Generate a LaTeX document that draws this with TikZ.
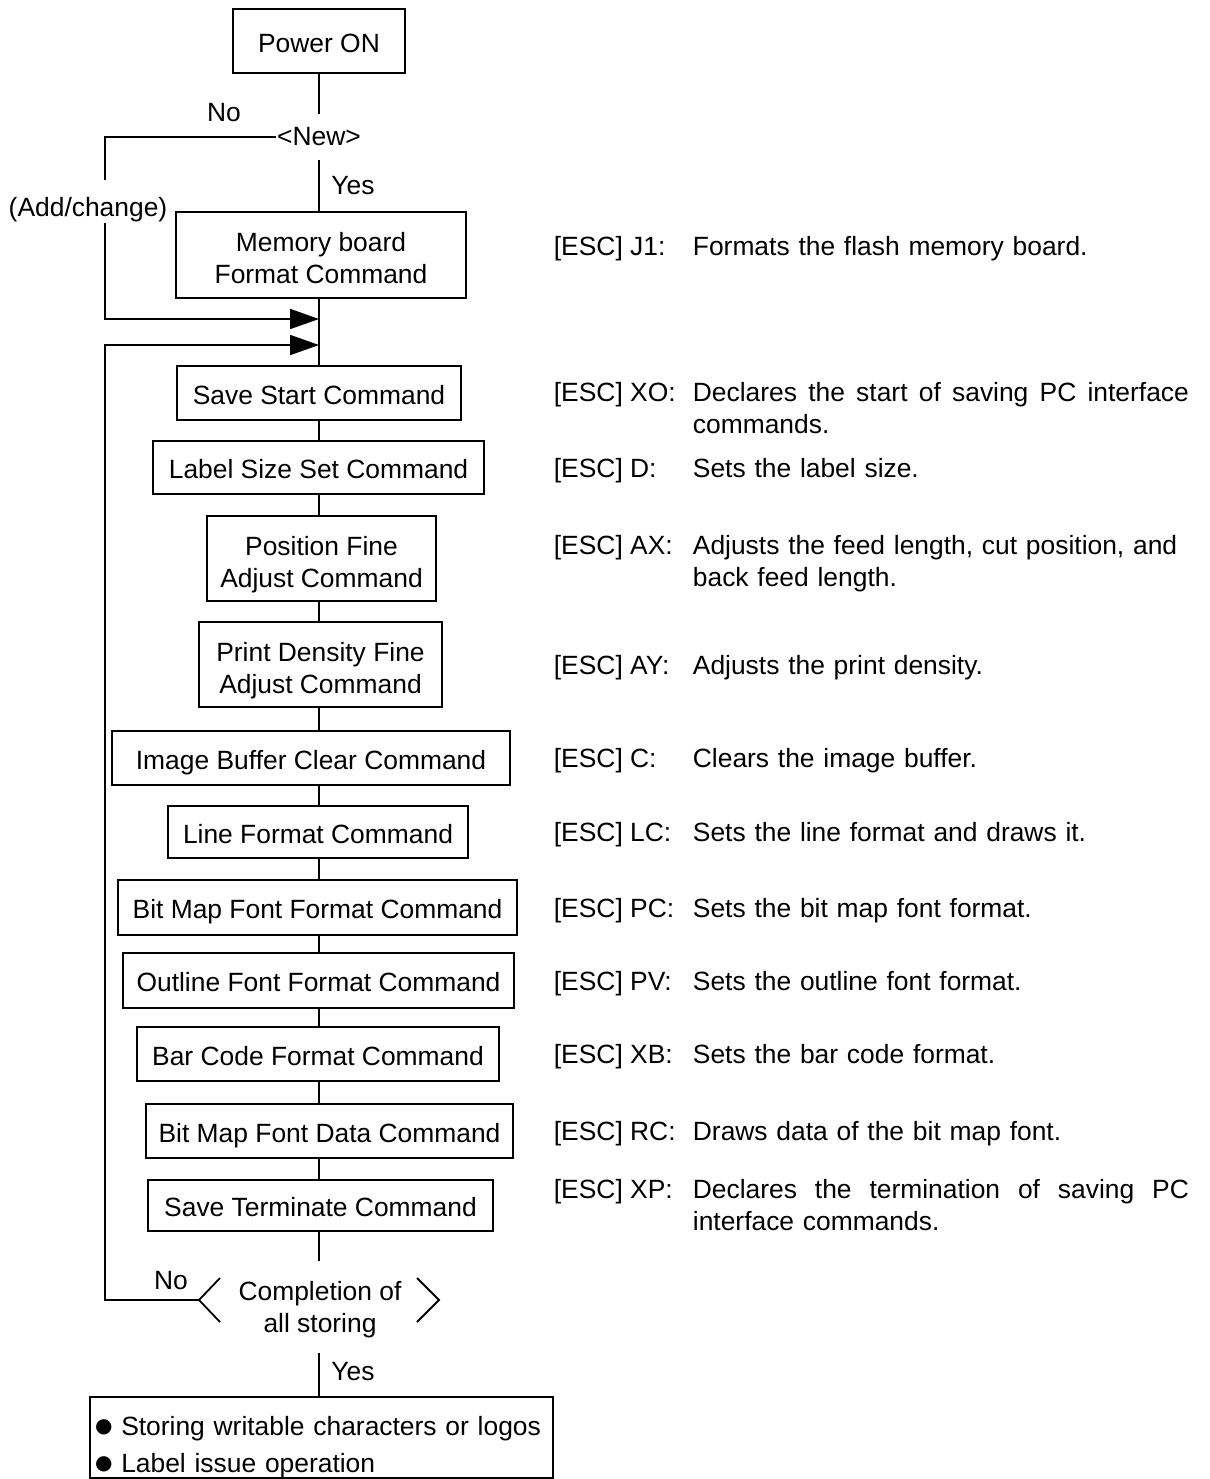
\documentclass[tikz,border=0pt]{standalone}
\usepackage{fontspec}
\setmainfont{Liberation Sans}
\newfontfamily\symfont{DejaVu Sans}
\usetikzlibrary{arrows.meta}
\usetikzlibrary{calc}

\begin{document}
\begin{tikzpicture}[x=0.5pt, y=-0.5pt, line width=0.9pt,
				   every node/.style={font=\fontsize{13.2pt}{16pt}\selectfont, inner sep=0pt},
				   box/.style={draw, align=center, text height=11.4pt, text depth=0pt},
				   boxtwo/.style={draw, align=center, text height=28.5pt, text depth=0pt},
				   esc/.style={anchor=base west},
				   note/.style={anchor=base west, text width=248pt, align=left},
				   tip/.style={-{Triangle[length=14.5pt, width=10pt]}}]
\useasboundingbox (0,0) rectangle (1210,1479);
\coordinate (spine) at (319,0);

% main flow
\node[box, minimum width=86pt, minimum height=32pt] (power) at (319,41) {Power ON};
\node[inner ysep=6.3pt] (new) at (319,137) {<New>};
\node[boxtwo, minimum width=145pt, minimum height=43pt] (memory) at (321,255) {Memory board\\Format Command};
\node[box, minimum width=142pt, minimum height=27pt] (savestart) at (319,393) {Save Start Command};
\node[box, minimum width=165.5pt, minimum height=26.5pt] (labelsize) at (318.5,467.5) {Label Size Set Command};
\node[boxtwo, minimum width=114.5pt, minimum height=42.5pt] (finepos) at (321.5,558.5) {Position Fine\\Adjust Command};
\node[boxtwo, minimum width=121.5pt, minimum height=42.5pt] (density) at (320.5,664.5) {Print Density Fine\\Adjust Command};
\node[box, minimum width=199pt, minimum height=27pt] (imgclear) at (311,758) {Image Buffer Clear Command};
\node[box, minimum width=150pt, minimum height=26pt] (lineform) at (318,832) {Line Format Command};
\node[box, minimum width=199.5pt, minimum height=27.5pt] (bmpform) at (317.5,907.5) {Bit Map Font Format Command};
\node[box, minimum width=195.5pt, minimum height=27.5pt] (outform) at (318.5,980.5) {Outline Font Format Command};
\node[box, minimum width=181pt, minimum height=27pt] (barform) at (318,1054) {Bar Code Format Command};
\node[box, minimum width=183.5pt, minimum height=27pt] (bmpdata) at (329.5,1131) {Bit Map Font Data Command};
\node[box, minimum width=172.5pt, minimum height=25.5pt] (saveterm) at (320.5,1205.5) {Save Terminate Command};
\node[align=center] (done) at (320,1310) {Completion of\\all storing};
\node[draw, anchor=north, text width=226.5pt, inner xsep=2.5pt, align=left,
	  font=\fontsize{13.2pt}{18.5pt}\selectfont] (result) at (321.5,1396)
	{\rule{0pt}{19.5pt}\raisebox{1.5pt}{\symfont\fontsize{10pt}{18.5pt}\selectfont ●} Storing writable characters or logos\\
	 \raisebox{1.5pt}{\symfont\fontsize{10pt}{18.5pt}\selectfont ●} Label issue operation};

% branch labels
\node (no1) at (224,113) {No};
\node (yes1) at (353,186) {Yes};
\node (addchg) at (88,210) {(Add/change)};
\node (no2) at (171,1281) {No};
\node (yes2) at (353,1372) {Yes};

% command notes
\node[esc] (escj1) at (553,255.5) {[ESC] J1:};
\node[note] (notej1) at (692,255.5) {Formats the flash memory board.};
\node[esc] (escxo) at (553,401.5) {[ESC] XO:};
\node[note] (notexo) at (692,401.5) {\makebox[248pt][s]{\spaceskip=0pt Declares the start of saving PC interface}\\commands.};
\node[esc] (escd) at (553,477) {[ESC] D:};
\node[note] (noted) at (692,477) {Sets the label size.};
\node[esc] (escax) at (553,554.5) {[ESC] AX:};
\node[note] (noteax) at (692,554.5) {Adjusts the feed length, cut position, and\\back feed length.};
\node[esc] (escay) at (553,674.5) {[ESC] AY:};
\node[note] (noteay) at (692,674.5) {Adjusts the print density.};
\node[esc] (escc) at (553,767.5) {[ESC] C:};
\node[note] (notec) at (692,767.5) {Clears the image buffer.};
\node[esc] (esclc) at (553,841.5) {[ESC] LC:};
\node[note] (notelc) at (692,841.5) {Sets the line format and draws it.};
\node[esc] (escpc) at (553,917.5) {[ESC] PC:};
\node[note] (notepc) at (692,917.5) {Sets the bit map font format.};
\node[esc] (escpv) at (553,990.5) {[ESC] PV:};
\node[note] (notepv) at (692,990.5) {Sets the outline font format.};
\node[esc] (escxb) at (553,1063.5) {[ESC] XB:};
\node[note] (notexb) at (692,1063.5) {Sets the bar code format.};
\node[esc] (escrc) at (553,1140.5) {[ESC] RC:};
\node[note] (noterc) at (692,1140.5) {Draws data of the bit map font.};
\node[esc] (escxp) at (553,1198.5) {[ESC] XP:};
\node[note] (notexp) at (692,1198.5) {\makebox[248pt][s]{\spaceskip=0pt Declares the termination of saving PC}\\interface commands.};

% connectors
\coordinate (m1) at (319,319);
\coordinate (m2) at (319,345);
\coordinate (nol) at (105,137);
\coordinate (a1) at (105,180);
\coordinate (a2) at (105,223);
\coordinate (loop) at (105,345);
\coordinate (donetop) at (319,1261);
\coordinate (donebot) at (319,1353);
\coordinate (donel) at (199,1300);
\coordinate (doner) at (439,1300);

\draw (spine |- power.south) -- (spine |- new.north);
\draw (spine |- new.south) -- (spine |- memory.north);
\draw (spine |- memory.south) -- (spine |- savestart.north);
\foreach \a/\b in {savestart/labelsize, labelsize/finepos, finepos/density, density/imgclear,
				   imgclear/lineform, lineform/bmpform, bmpform/outform, outform/barform,
				   barform/bmpdata, bmpdata/saveterm}
	\draw (spine |- \a.south) -- (spine |- \b.north);
\draw (spine |- saveterm.south) -- (donetop);
\draw (donebot) -- (spine |- result.north);

\draw ($(donel)+(21,-22)$) -- (donel) -- ($(donel)+(21,22)$);
\draw ($(doner)+(-22,-22)$) -- (doner) -- ($(doner)+(-22,22)$);

\draw (new.west) -- (nol) -- (a1);
\draw[tip] (a2) |- (m1);
\draw[tip] (donel) -| (loop) -- (m2);
\end{tikzpicture}
\end{document}
